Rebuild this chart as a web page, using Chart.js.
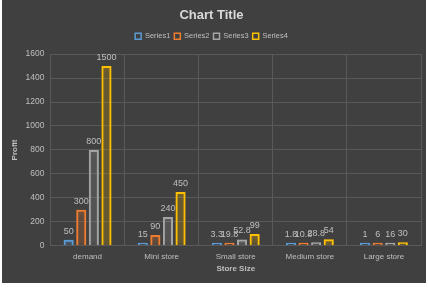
<!DOCTYPE html>
<html><head><meta charset="utf-8">
<script src="https://cdn.jsdelivr.net/npm/chart.js@4/dist/chart.umd.min.js"></script>
<style>
html,body{margin:0;padding:0;background:#fff;width:428px;height:288px;overflow:hidden;}
#wrap{position:absolute;left:2px;top:0;width:424px;height:283px;background:#404040;}
</style></head><body>
<div id="wrap"><canvas id="c" width="424" height="283"></canvas></div>
<script>
const categories = ["demand","Mini store","Small store","Medium store","Large store"];
const series1 = [50,15,3.3,1.8,1];
const series2 = [300,90,19.8,10.8,6];
const series3 = [800,240,52.8,28.8,16];
const series4 = [1500,450,99,54,30];
const seriesNames = ["Series1","Series2","Series3","Series4"];
const colors = ["#5b9bd5","#ed7d31","#a5a5a5","#ffc000"];
const yTicks = {min:0,max:1600,step:200};

const txt = "#bfbfbf";
const fam = '"Liberation Sans", Arial, sans-serif';
function rgba(hex,a){const n=parseInt(hex.slice(1),16);return `rgba(${n>>16},${(n>>8)&255},${n&255},${a})`;}

const legendSpace = {
  id:'legendSpace',
  beforeInit(chart){const f=chart.legend.fit;chart.legend.fit=function(){f.bind(chart.legend)();this.height+=4;};}
};
const glow = {
  id:'glow',
  beforeDatasetDraw(chart,args){const c=chart.ctx;c.save();c.shadowColor=rgba(colors[args.index],0.6);c.shadowBlur=5;},
  afterDatasetDraw(chart){chart.ctx.restore();}
};
const labels = {
  id:'labels',
  afterDatasetsDraw(chart){
    const c=chart.ctx;c.save();c.font='9px '+fam;c.fillStyle=txt;c.textAlign='center';c.textBaseline='bottom';
    chart.data.datasets.forEach((ds,i)=>{
      chart.getDatasetMeta(i).data.forEach((bar,j)=>{c.fillText(String(ds.data[j]),bar.x,bar.y-4);});
    });
    c.restore();
  }
};

const data = [series1,series2,series3,series4];
new Chart(document.getElementById('c'),{
  type:'bar',
  data:{labels:categories,datasets:data.map((d,i)=>({label:seriesNames[i],data:d,backgroundColor:rgba(colors[i],0.06),borderColor:colors[i],borderWidth:2,minBarLength:3}))},
  options:{
    responsive:false,animation:false,devicePixelRatio:1,
    datasets:{bar:{categoryPercentage:0.68,barPercentage:0.8}},
    layout:{padding:{left:0,right:5,top:2,bottom:9}},
    plugins:{
      title:{display:true,text:"Chart Title",color:"#d9d9d9",font:{size:13,weight:'bold',family:fam},padding:{top:6,bottom:5}},
      legend:{position:'top',labels:{color:txt,font:{size:7.5,family:fam},boxWidth:6,boxHeight:6,padding:4,
        generateLabels(chart){return chart.data.datasets.map((ds,i)=>({text:ds.label,fillStyle:'rgba(0,0,0,0)',strokeStyle:colors[i],lineWidth:1.5,datasetIndex:i,fontColor:txt}));}}},
      tooltip:{enabled:false}
    },
    scales:{
      x:{grid:{color:"#595959",offset:true,drawTicks:false},border:{color:"#595959"},
        ticks:{color:txt,font:{size:8,family:fam},padding:6},
        title:{display:true,text:"Store Size",color:txt,font:{size:8,weight:'bold',family:fam},padding:{top:-3,bottom:0}}},
      y:{min:yTicks.min,max:yTicks.max,grid:{color:"#595959",drawTicks:false},border:{display:false},
        ticks:{stepSize:yTicks.step,color:txt,font:{size:8.5,family:fam},padding:6,callback:v=>String(v)},
        title:{display:true,text:"Profit",color:txt,font:{size:8,weight:'bold',family:fam},padding:{top:8,bottom:0}}}
    }
  },
  plugins:[legendSpace,glow,labels]
});
</script></body></html>
